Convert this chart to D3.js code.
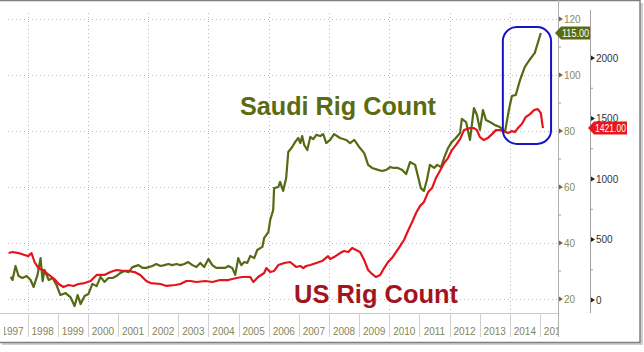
<!DOCTYPE html>
<html>
  <head>
    <meta charset="utf-8">
    <script src="https://d3js.org/d3.v7.min.js"></script>
    <style>
      body { margin: 0; background: white; }
      svg { font-family: "Liberation Sans", Arial, sans-serif; }
      .grid line { stroke: #b8b8b8; stroke-width: 1; stroke-dasharray: 1,3; }
    </style>
  </head>
  <body>
    <div id="chart"></div>
<script>
// values: [year, value]
var saudiRigs = [
  [1997.44,27.9],[1997.50,26.8],[1997.60,31.8],[1997.70,28.2],[1997.83,27.5],[1997.97,28.2],
  [1998.10,26.8],[1998.20,24.3],[1998.33,28.6],[1998.43,34.6],[1998.50,26.4],[1998.56,30.4],
  [1998.70,26.8],[1998.83,27.5],[1998.96,25.0],[1999.09,21.4],[1999.26,22.1],[1999.42,20.7],
  [1999.56,17.5],[1999.66,21.4],[1999.76,18.2],[1999.89,21.1],[2000.02,21.8],[2000.15,25.4],
  [2000.29,24.6],[2000.42,27.9],[2000.55,26.1],[2000.68,27.5],[2000.82,27.5],[2000.95,28.2],
  [2001.08,29.3],[2001.21,30.0],[2001.35,29.6],[2001.48,31.4],[2001.68,32.1],[2001.81,31.1],
  [2001.94,31.1],[2002.14,31.8],[2002.27,32.5],[2002.41,31.8],[2002.54,32.1],[2002.67,32.5],
  [2002.80,32.1],[2002.94,32.5],[2003.07,32.1],[2003.20,32.5],[2003.33,33.2],[2003.47,32.1],
  [2003.60,31.4],[2003.73,32.9],[2003.86,31.4],[2004.00,34.3],[2004.13,32.1],[2004.26,31.1],
  [2004.39,31.1],[2004.56,31.1],[2004.66,31.8],[2004.79,31.1],[2004.89,28.6],[2004.99,34.6],
  [2005.09,32.1],[2005.19,33.2],[2005.29,32.9],[2005.39,35.4],[2005.52,34.6],[2005.62,37.5],
  [2005.79,38.6],[2005.85,41.8],[2005.99,43.9],[2006.05,48.2],[2006.15,51.8],[2006.18,59.6],
  [2006.32,60.0],[2006.38,61.8],[2006.48,58.6],[2006.58,63.2],[2006.65,72.5],[2006.78,74.3],
  [2006.88,76.1],[2006.98,77.5],[2007.05,75.7],[2007.11,78.2],[2007.18,75.0],[2007.28,73.2],
  [2007.38,77.9],[2007.48,77.1],[2007.58,78.6],[2007.71,78.2],[2007.81,78.9],[2007.91,75.7],
  [2008.04,76.8],[2008.17,78.9],[2008.37,77.5],[2008.57,76.8],[2008.70,75.7],[2008.84,76.8],
  [2009.03,73.9],[2009.17,72.1],[2009.30,67.9],[2009.43,66.8],[2009.63,66.1],[2009.76,65.7],
  [2009.90,66.1],[2010.03,67.1],[2010.16,66.8],[2010.29,66.8],[2010.43,66.1],[2010.56,64.6],
  [2010.69,68.9],[2010.86,67.9],[2010.96,63.6],[2011.05,59.6],[2011.15,58.6],[2011.25,62.5],
  [2011.35,67.9],[2011.49,66.8],[2011.59,67.9],[2011.72,67.1],[2011.82,70.4],[2011.95,73.9],
  [2012.08,76.1],[2012.21,77.5],[2012.35,79.3],[2012.41,84.3],[2012.55,83.2],[2012.68,76.8],
  [2012.81,88.2],[2012.91,85.7],[2013.01,80.4],[2013.11,87.5],[2013.21,83.9],[2013.34,83.2],
  [2013.51,82.1],[2013.67,81.4],[2013.84,79.6],[2013.97,87.5],[2014.07,92.5],[2014.20,92.9],
  [2014.34,98.2],[2014.50,102.9],[2014.63,105.0],[2014.83,107.9],[2015.03,115.0]
];

var usRigs = [
  [1997.37,388],[1997.50,397],[1997.70,388],[1997.90,372],[1998.03,363],[1998.13,388],
  [1998.23,314],[1998.36,264],[1998.50,248],[1998.63,223],[1998.76,198],[1998.89,173],
  [1999.03,132],[1999.19,107],[1999.36,124],[1999.52,116],[1999.69,132],[1999.89,140],
  [2000.09,157],[2000.29,207],[2000.55,207],[2000.75,231],[2000.95,248],[2001.15,240],
  [2001.35,240],[2001.55,231],[2001.74,207],[2001.94,157],[2002.08,140],[2002.41,132],
  [2002.61,116],[2002.90,124],[2003.07,132],[2003.27,157],[2003.40,157],[2003.60,149],
  [2003.90,157],[2004.13,149],[2004.39,165],[2004.66,165],[2004.93,182],[2005.12,190],
  [2005.39,190],[2005.49,149],[2005.65,190],[2005.85,223],[2005.92,264],[2006.05,231],
  [2006.18,240],[2006.32,289],[2006.52,306],[2006.71,314],[2006.91,273],[2007.05,281],
  [2007.15,264],[2007.24,281],[2007.38,289],[2007.58,306],[2007.77,322],[2007.97,363],
  [2008.04,339],[2008.17,355],[2008.37,388],[2008.50,405],[2008.64,397],[2008.77,430],
  [2008.90,413],[2009.03,397],[2009.17,330],[2009.30,248],[2009.43,215],[2009.56,190],
  [2009.70,207],[2009.83,264],[2009.96,314],[2010.09,347],[2010.23,397],[2010.36,446],
  [2010.49,496],[2010.62,570],[2010.76,644],[2010.89,719],[2011.02,776],[2011.15,809],
  [2011.29,892],[2011.42,925],[2011.55,1008],[2011.68,1066],[2011.82,1132],[2011.95,1173],
  [2012.08,1239],[2012.21,1280],[2012.35,1330],[2012.48,1404],[2012.68,1421],[2012.81,1421],
  [2012.91,1404],[2013.01,1346],[2013.14,1322],[2013.27,1338],[2013.41,1371],[2013.54,1404],
  [2013.67,1404],[2013.81,1396],[2013.94,1379],[2014.07,1396],[2014.17,1388],[2014.27,1421],
  [2014.40,1454],[2014.53,1512],[2014.67,1536],[2014.80,1569],[2014.93,1578],[2015.03,1545],
  [2015.10,1421]
];

var years = d3.range(1997, 2016);
var gridYears = [1998, 2000, 2002, 2004, 2006, 2008, 2010, 2012, 2014];
var saudiTicks = [20, 40, 60, 80, 100, 120];
var saudiMinor = [30, 50, 70, 90, 110];
var usTicks = [0, 500, 1000, 1500, 2000];
var usMinor = [250, 750, 1250, 1750];
var saudiLast = 115.00;
var usLast = 1421.00;
var boxYears = [2013.77, 2015.37];
var boxSaudi = [117.1, 75.4];

var width = 644, height = 352;
var plotLeft = 8, plotRight = 558, axisY = 313;

var x = d3.scaleLinear().domain([1997.35, 2015.6]).range([plotLeft, plotRight]);
var ySaudi = d3.scaleLinear().domain([20, 120]).range([299, 19]);
var yUS = d3.scaleLinear().domain([0, 2000]).range([300, 58]);

var svg = d3.select('#chart').append('svg')
  .attr('width', width)
  .attr('height', height);

// frame with a bit of shadow
svg.append('rect').attr('x', 2).attr('y', 3).attr('width', 641).attr('height', 342)
  .attr('fill', '#d0d0d0');
svg.append('rect').attr('x', -1).attr('y', 0.5).attr('width', 641).attr('height', 342)
  .attr('fill', 'white').attr('stroke', '#808080').attr('stroke-width', 1.5);

// grid
var grid = svg.append('g').attr('class', 'grid');
grid.selectAll('.h').data(saudiTicks).enter().append('line')
  .attr('x1', plotLeft).attr('x2', plotRight)
  .attr('y1', function (d) { return ySaudi(d) + 0.5; })
  .attr('y2', function (d) { return ySaudi(d) + 0.5; });
grid.selectAll('.v').data(gridYears).enter().append('line')
  .attr('x1', function (d) { return Math.round(x(d)) + 0.5; })
  .attr('x2', function (d) { return Math.round(x(d)) + 0.5; })
  .attr('y1', 13).attr('y2', axisY);

// bottom axis: separators at year starts, labels centred in each year
svg.append('line').attr('x1', 0).attr('x2', plotRight)
  .attr('y1', axisY + 0.5).attr('y2', axisY + 0.5)
  .attr('stroke', '#c8c8c8');
svg.append('clipPath').attr('id', 'xclip').append('rect')
  .attr('x', 4).attr('y', axisY).attr('width', plotRight - 4).attr('height', 30);
var xa = svg.append('g').attr('clip-path', 'url(#xclip)');
xa.selectAll('.sep').data(years).enter().append('line')
  .attr('x1', function (d) { return Math.round(x(d)) + 0.5; })
  .attr('x2', function (d) { return Math.round(x(d)) + 0.5; })
  .attr('y1', axisY).attr('y2', 337)
  .attr('stroke', '#d0d0d0');
xa.selectAll('.yl').data(years).enter().append('text')
  .attr('x', function (d) { return x(d + 0.5); })
  .attr('y', 335)
  .attr('text-anchor', 'middle')
  .attr('font-size', 10)
  .attr('fill', '#85855a')
  .text(function (d) { return d; });

// left (Saudi) value axis at right edge of plot
svg.append('line').attr('x1', plotRight + 0.5).attr('x2', plotRight + 0.5)
  .attr('y1', 0).attr('y2', 337).attr('stroke', '#b0b0b0');
var sa = svg.append('g');
sa.selectAll('path').data(saudiTicks).enter().append('path')
  .attr('d', function (d) { var y = ySaudi(d); return 'M' + (plotRight + 1) + ',' + (y - 2.5) + 'L' + (plotRight + 5) + ',' + y + 'L' + (plotRight + 1) + ',' + (y + 2.5) + 'Z'; })
  .attr('fill', '#6b6b40');
sa.selectAll('line').data(saudiMinor).enter().append('line')
  .attr('x1', plotRight + 1).attr('x2', plotRight + 3)
  .attr('y1', function (d) { return ySaudi(d); }).attr('y2', function (d) { return ySaudi(d); })
  .attr('stroke', '#999');
sa.selectAll('text').data(saudiTicks).enter().append('text')
  .attr('x', plotRight + 6).attr('y', function (d) { return ySaudi(d) + 3.5; })
  .attr('font-size', 10).attr('fill', '#8a8a5c')
  .text(function (d) { return d; });

// US axis
var usX = 590;
svg.append('line').attr('x1', usX + 0.5).attr('x2', usX + 0.5)
  .attr('y1', 10).attr('y2', axisY).attr('stroke', '#a0a0a0');
var ua = svg.append('g');
ua.selectAll('path').data(usTicks).enter().append('path')
  .attr('d', function (d) { var y = yUS(d); return 'M' + (usX + 1) + ',' + (y - 2.5) + 'L' + (usX + 5) + ',' + y + 'L' + (usX + 1) + ',' + (y + 2.5) + 'Z'; })
  .attr('fill', '#222');
ua.selectAll('line').data(usMinor).enter().append('line')
  .attr('x1', usX + 1).attr('x2', usX + 3)
  .attr('y1', function (d) { return yUS(d); }).attr('y2', function (d) { return yUS(d); })
  .attr('stroke', '#999');
ua.selectAll('text').data(usTicks).enter().append('text')
  .attr('x', usX + 6).attr('y', function (d) { return yUS(d) + 3.5; })
  .attr('font-size', 10).attr('fill', '#333')
  .text(function (d) { return d; });

// series
var saudiLine = d3.line()
  .x(function (d) { return x(d[0]); })
  .y(function (d) { return ySaudi(d[1]); });
var usLine = d3.line()
  .x(function (d) { return x(d[0]); })
  .y(function (d) { return yUS(d[1]); });

svg.append('path').datum(saudiRigs)
  .attr('d', saudiLine)
  .attr('fill', 'none').attr('stroke', '#556a14').attr('stroke-width', 2.2)
  .attr('stroke-linejoin', 'round');
svg.append('path').datum(usRigs)
  .attr('d', usLine)
  .attr('fill', 'none').attr('stroke', '#e3141c').attr('stroke-width', 2.2)
  .attr('stroke-linejoin', 'round');

// highlight box
svg.append('rect')
  .attr('x', x(boxYears[0])).attr('y', ySaudi(boxSaudi[0]))
  .attr('width', x(boxYears[1]) - x(boxYears[0]))
  .attr('height', ySaudi(boxSaudi[1]) - ySaudi(boxSaudi[0]))
  .attr('rx', 14).attr('ry', 14)
  .attr('fill', 'none').attr('stroke', '#1414c8').attr('stroke-width', 2);

// last value tags
function tag(x0, w, y, color, label) {
  svg.append('path')
    .attr('d', 'M' + (x0 - 3) + ',' + y + 'L' + (x0 + 3) + ',' + (y - 6.5) + 'L' + (x0 + w) + ',' + (y - 6.5) +
      'L' + (x0 + w) + ',' + (y + 6.5) + 'L' + (x0 + 3) + ',' + (y + 6.5) + 'Z')
    .attr('fill', color);
  svg.append('text')
    .attr('x', x0 + 3 + (w - 3) / 2).attr('y', y + 3.5)
    .attr('text-anchor', 'middle')
    .attr('font-size', 10).attr('fill', 'white')
    .attr('textLength', w - 5).attr('lengthAdjust', 'spacingAndGlyphs')
    .text(label);
}
tag(plotRight, 32, ySaudi(saudiLast), '#5b6b12', saudiLast.toFixed(2));
tag(usX + 1, 36, yUS(usLast), '#e8161b', usLast.toFixed(2));

// annotations
svg.append('text')
  .attr('x', 240).attr('y', 115)
  .attr('font-size', 26).attr('font-weight', 'bold')
  .attr('fill', '#5b6b12')
  .attr('textLength', 196).attr('lengthAdjust', 'spacingAndGlyphs')
  .text('Saudi Rig Count');
svg.append('text')
  .attr('x', 294).attr('y', 303)
  .attr('font-size', 26).attr('font-weight', 'bold')
  .attr('fill', '#a3141f')
  .attr('textLength', 164).attr('lengthAdjust', 'spacingAndGlyphs')
  .text('US Rig Count');
</script>
  </body>
</html>
